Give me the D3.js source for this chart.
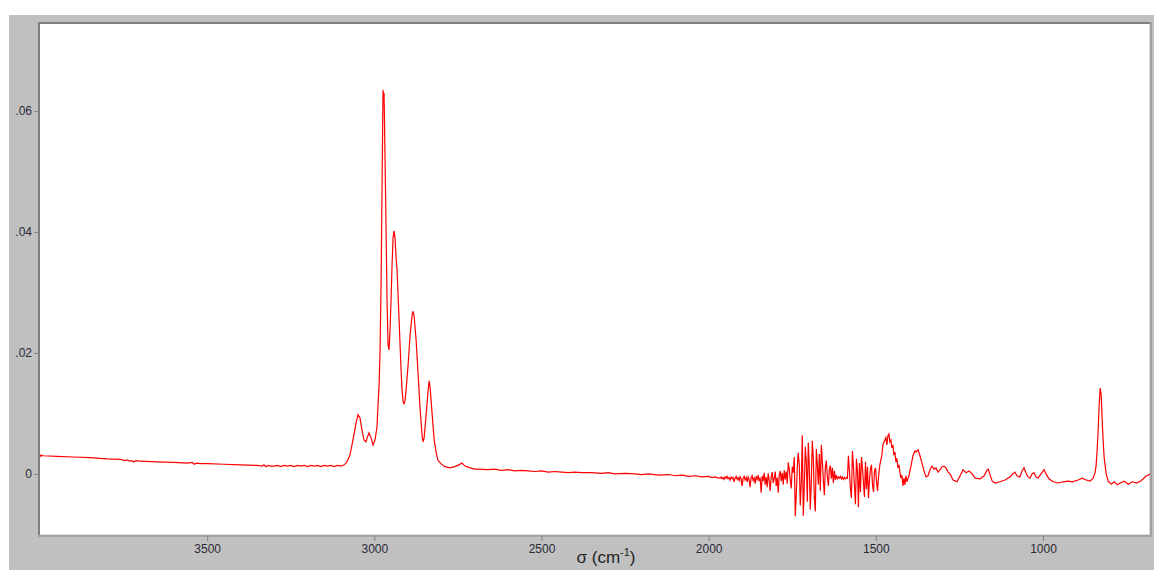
<!DOCTYPE html>
<html><head><meta charset="utf-8">
<script src="https://cdn.jsdelivr.net/npm/d3@7"></script>
<style>body{margin:0;background:#fff}svg{display:block}</style>
</head><body><svg id="c" width="1154" height="570"></svg>
<script>
// ---- data ----
const xTicks = [3500, 3000, 2500, 2000, 1500, 1000];
const yTicks = [0, 0.02, 0.04, 0.06];
const yTickLabels = ["0", ".02", ".04", ".06"];
const xDomain = [4000, 680];
const yDomain = [-0.0101, 0.0744];
const xTitle = "σ (cm";
const xTitleSup = "-1";

const baselineLeft = [[4000,0.0032],[3997,0.0029],[3994,0.0031],[3990,0.0030],[3950,0.0029],[3900,0.0028],[3850,0.0027],[3800,0.0025],[3760,0.0024],[3745,0.0022],[3738,0.0023],[3732,0.0021],[3726,0.0022],[3720,0.0020],[3712,0.0022],[3700,0.0021],[3650,0.0020],[3600,0.0019],[3560,0.0018],[3545,0.0019],[3538,0.0016],[3532,0.0018],[3520,0.0017],[3500,0.0017],[3450,0.0016],[3400,0.0015],[3350,0.0014],[3335,0.0013],[3330,0.0015],[3325,0.0012],[3318,0.0014],[3310,0.0013],[3300,0.0013],[3290,0.0014],[3280,0.0012],[3270,0.0014],[3260,0.0013],[3250,0.0014],[3240,0.0012],[3230,0.0014],[3220,0.0013],[3210,0.0014],[3200,0.0012],[3190,0.0014],[3180,0.0013],[3170,0.0014],[3160,0.0012],[3150,0.0014],[3140,0.0013],[3130,0.0014],[3120,0.0012],[3110,0.0014],[3100,0.0013],[3090,0.0015]];

const chRegion = [[3082,0.0020],[3073,0.0031],[3064,0.0056],[3055,0.0083],[3049,0.0098],[3043,0.0093],[3037,0.0073],[3031,0.0056],[3025,0.0053],[3020,0.0062],[3016,0.0068],[3010,0.0060],[3004,0.0048],[2998,0.0056],[2992,0.0078],[2989,0.0114],[2986,0.0144],[2983,0.0200],[2980,0.0309],[2977,0.0469],[2976,0.0527],[2974,0.0635],[2972,0.0620],[2971,0.0630],[2968,0.0524],[2965,0.0408],[2962,0.0288],[2959,0.0213],[2956,0.0205],[2953,0.0238],[2950,0.0288],[2947,0.0345],[2944,0.0390],[2941,0.0402],[2938,0.0390],[2935,0.0357],[2932,0.0337],[2929,0.0296],[2923,0.0213],[2920,0.0172],[2917,0.0139],[2914,0.0119],[2911,0.0116],[2908,0.0122],[2905,0.0139],[2899,0.0180],[2893,0.0230],[2887,0.0263],[2884,0.0269],[2881,0.0261],[2875,0.0221],[2869,0.0164],[2863,0.0106],[2857,0.0063],[2854,0.0053],[2851,0.0060],[2845,0.0098],[2839,0.0139],[2836,0.0154],[2833,0.0142],[2827,0.0098],[2821,0.0056],[2815,0.0035],[2810,0.0023],[2801,0.0017],[2789,0.0012],[2774,0.0010],[2759,0.0012],[2747,0.0015],[2738,0.0018],[2729,0.0013],[2714,0.0010],[2699,0.0008]];

const baselineMid = [[2690,0.0008],[2660,0.0007],[2640,0.0008],[2620,0.0006],[2600,0.0007],[2580,0.0005],[2560,0.0006],[2540,0.0005],[2520,0.0004],[2500,0.0005],[2480,0.0003],[2460,0.0004],[2440,0.0003],[2420,0.0002],[2400,0.0003],[2380,0.0002],[2350,0.0002],[2320,0.0001],[2300,0.0002],[2280,0.0000],[2250,0.0001],[2220,0.0000],[2200,-0.0001],[2180,0.0000],[2150,-0.0002],[2120,-0.0001],[2100,-0.0003],[2080,-0.0002],[2060,-0.0004],[2040,-0.0003],[2020,-0.0005],[2000,-0.0004],[1990,-0.0006],[1980,-0.0005],[1970,-0.0007]];

const noisyRegion = [[1966,-0.0007],[1963,-0.0005],[1960,-0.0008],[1957,-0.0006],[1954,-0.0009],[1951,-0.0005],[1948,-0.0007],[1945,-0.0004],[1942,-0.0008],[1939,-0.0006],[1936,-0.0010],[1933,-0.0005],[1930,-0.0008],[1927,-0.0006],[1924,-0.0013],[1921,-0.0007],[1918,-0.0004],[1915,-0.0009],[1912,-0.0006],[1909,-0.0011],[1906,-0.0005],[1903,-0.0008],[1900,-0.0020],[1897,-0.0007],[1894,-0.0004],[1891,-0.0010],[1888,-0.0006],[1885,-0.0013],[1882,-0.0005],[1879,-0.0009],[1876,-0.0022],[1873,-0.0006],[1870,-0.0003],[1867,-0.0011],[1864,-0.0007],[1861,-0.0016],[1858,-0.0004],[1855,-0.0009],[1852,-0.0002],[1849,-0.0012],[1846,-0.0006],[1843,-0.0031],[1840,-0.0003],[1837,-0.0012],[1834,0.0002],[1831,-0.0018],[1828,-0.0005],[1825,-0.0022],[1822,0.0001],[1819,-0.0010],[1816,-0.0028],[1813,-0.0004],[1810,0.0003],[1807,-0.0015],[1804,-0.0008],[1801,0.0004],[1798,-0.0020],[1795,-0.0006],[1792,-0.0031],[1789,-0.0002],[1786,0.0005],[1783,-0.0012],[1780,0.0002],[1777,-0.0018],[1774,0.0006],[1771,-0.0009],[1768,0.0004],[1765,-0.0016],[1762,0.0019],[1759,0.0008],[1756,-0.0010],[1753,-0.0024],[1750,0.0012],[1747,0.0002],[1744,0.0028],[1741,-0.0070],[1738,-0.0035],[1735,0.0010],[1732,0.0035],[1729,0.0015],[1726,-0.0052],[1723,-0.0015],[1720,0.0064],[1717,-0.0069],[1714,-0.0020],[1711,0.0045],[1708,0.0020],[1705,-0.0046],[1702,0.0052],[1699,0.0010],[1696,-0.0059],[1693,-0.0012],[1690,0.0055],[1687,0.0025],[1684,-0.0038],[1681,-0.0062],[1678,0.0041],[1675,0.0015],[1672,-0.0018],[1669,0.0033],[1666,-0.0028],[1663,0.0048],[1660,0.0020],[1657,-0.0010],[1654,-0.0035],[1651,0.0012],[1648,0.0022],[1645,-0.0005],[1642,-0.0020],[1639,0.0008],[1636,0.0014],[1633,-0.0008],[1630,0.0010],[1627,-0.0015],[1624,0.0005],[1621,-0.0010],[1618,-0.0002],[1615,-0.0008],[1612,-0.0005],[1609,-0.0007],[1606,-0.0004],[1603,-0.0008],[1600,-0.0005],[1597,-0.0009],[1594,-0.0006],[1591,-0.0008],[1588,-0.0006],[1585,-0.0007],[1582,0.0030],[1579,0.0005],[1576,-0.0025],[1573,-0.0040],[1570,0.0038],[1567,0.0012],[1564,-0.0020],[1561,-0.0050],[1558,0.0025],[1555,0.0005],[1552,-0.0055],[1549,0.0018],[1546,-0.0030],[1543,0.0028],[1540,0.0010],[1537,-0.0015],[1534,-0.0038],[1531,0.0020],[1528,-0.0025],[1525,0.0012],[1522,-0.0040],[1519,-0.0010],[1516,0.0008],[1513,0.0015],[1510,-0.0018],[1507,-0.0030],[1504,0.0005],[1501,0.0010],[1498,-0.0012],[1495,-0.0028],[1492,-0.0005]];

const fingerprint = [[1488,0.0015],[1482,0.0031],[1479,0.0048],[1473,0.0056],[1470,0.0060],[1467,0.0048],[1464,0.0063],[1461,0.0066],[1458,0.0053],[1455,0.0056],[1452,0.0043],[1449,0.0048],[1446,0.0031],[1443,0.0036],[1440,0.0020],[1437,0.0026],[1434,0.0010],[1431,0.0015],[1428,0.0003],[1425,-0.0007],[1422,-0.0002],[1419,-0.0020],[1416,-0.0007],[1413,-0.0018],[1410,-0.0003],[1407,-0.0013],[1401,-0.0003],[1395,0.0013],[1389,0.0030],[1383,0.0038],[1380,0.0036],[1374,0.0040],[1368,0.0030],[1362,0.0018],[1356,0.0005],[1350,-0.0005],[1344,-0.0003],[1338,0.0007],[1332,0.0013],[1326,0.0008],[1320,0.0010],[1314,0.0003],[1308,0.0007],[1302,0.0012],[1296,0.0013],[1290,0.0010],[1284,0.0003],[1278,0.0000],[1269,-0.0010],[1257,-0.0013],[1248,-0.0003],[1239,0.0007],[1230,0.0002],[1221,0.0005],[1212,0.0000],[1203,-0.0007],[1188,-0.0008],[1176,-0.0003],[1167,0.0007],[1164,0.0008],[1158,-0.0002],[1152,-0.0012],[1143,-0.0015],[1129,-0.0013],[1114,-0.0010],[1099,-0.0005],[1090,0.0000],[1084,0.0003],[1078,-0.0003],[1069,-0.0005],[1063,0.0005],[1057,0.0010],[1051,0.0002],[1045,-0.0005],[1039,-0.0007],[1033,0.0000],[1027,0.0002],[1021,-0.0005],[1015,-0.0007],[1006,0.0000],[997,0.0007],[991,0.0000],[982,-0.0008],[970,-0.0013],[955,-0.0015],[940,-0.0013],[925,-0.0012],[913,-0.0013],[895,-0.0010],[883,-0.0007],[871,-0.0010],[859,-0.0012],[850,-0.0007],[844,0.0003],[841,0.0015],[838,0.0040],[835,0.0073],[832,0.0114],[829,0.0142],[826,0.0131],[823,0.0089],[820,0.0053],[817,0.0026],[811,0.0000],[805,-0.0012],[796,-0.0017],[787,-0.0013],[778,-0.0018],[769,-0.0015],[757,-0.0012],[745,-0.0017],[733,-0.0013],[721,-0.0015],[709,-0.0012],[700,-0.0008],[691,-0.0003],[685,-0.0002],[680,0.0000]];

const spectrum = [].concat(baselineLeft, chRegion, baselineMid, noisyRegion, fingerprint);

// ---- layout ----
const svg = d3.select("#c");
const L = 40, R = 1150, T = 24, B = 535;
const x = d3.scaleLinear().domain(xDomain).range([L, R]);
const y = d3.scaleLinear().domain(yDomain).range([B, T]);

svg.append("rect").attr("x", 9).attr("y", 15).attr("width", 1145).attr("height", 555).attr("fill", "#c0c0c0");
svg.append("rect").attr("x", L).attr("y", T).attr("width", R - L).attr("height", B - T).attr("fill", "#fff");
// inset frame
svg.append("rect").attr("x", 38).attr("y", 22).attr("width", 2).attr("height", 514).attr("fill", "#808080");
svg.append("rect").attr("x", 38).attr("y", 22).attr("width", 1114).attr("height", 2).attr("fill", "#808080");
svg.append("rect").attr("x", R - 1).attr("y", T).attr("width", 1).attr("height", B - T).attr("fill", "#dcdcdc");
svg.append("rect").attr("x", R).attr("y", 22).attr("width", 2).attr("height", 515).attr("fill", "#a0a0a0");
svg.append("rect").attr("x", L).attr("y", B - 1).attr("width", R - L).attr("height", 1).attr("fill", "#dcdcdc");
svg.append("rect").attr("x", 38).attr("y", B).attr("width", 1114).attr("height", 2).attr("fill", "#a4a4a4");

const font = "'Liberation Sans', Arial, sans-serif";
const xAxis = d3.axisBottom(x).tickValues(xTicks).tickFormat(d3.format("d")).tickSize(5).tickSizeOuter(0).tickPadding(3);
const gx = svg.append("g").attr("transform", `translate(0,${B + 1})`).call(xAxis);
gx.select(".domain").remove();
gx.selectAll("line").attr("stroke", "#808080");
gx.selectAll("text").attr("font-family", font).attr("font-size", 12).attr("fill", "#2a2a35");

const yAxis = d3.axisLeft(y).tickValues(yTicks).tickFormat((d, i) => yTickLabels[i]).tickSize(5).tickPadding(2);
const gy = svg.append("g").attr("transform", `translate(${L - 1},0)`).call(yAxis);
gy.select(".domain").remove();
gy.selectAll("line").attr("stroke", "#808080");
gy.selectAll("text").attr("font-family", font).attr("font-size", 12).attr("fill", "#2a2a35");

const t = svg.append("text").attr("x", 606).attr("y", 563).attr("text-anchor", "middle")
  .attr("font-family", font).attr("font-size", 17).attr("fill", "#222");
t.append("tspan").text(xTitle);
t.append("tspan").attr("font-size", 11).attr("dy", -7).text(xTitleSup);
t.append("tspan").attr("dy", 7).text(")");

svg.append("defs").append("clipPath").attr("id", "clip").append("rect")
  .attr("x", L).attr("y", T).attr("width", R - L).attr("height", B - T);
const line = d3.line().x(d => x(d[0])).y(d => y(d[1]));
svg.append("path").datum(spectrum).attr("clip-path", "url(#clip)")
  .attr("d", line).attr("fill", "none").attr("stroke", "#ff0000").attr("stroke-width", 1.2);
</script></body></html>
